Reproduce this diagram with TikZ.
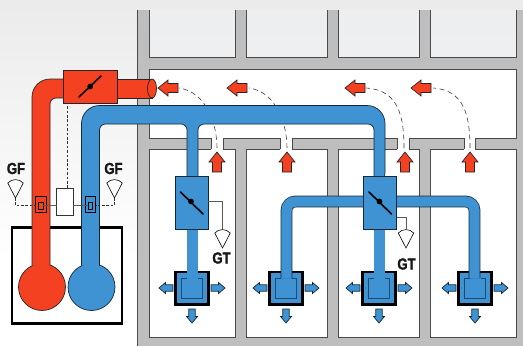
\documentclass[tikz,border=0pt]{standalone}
\usepackage{fontspec}
\setmainfont{Liberation Sans}
\newfontfamily\tagfont[BoldFeatures={FakeBold=1.6}]{Liberation Sans}
\definecolor{ductred}{HTML}{F44121}
\definecolor{ductblue}{HTML}{3F93D2}
\definecolor{wallgray}{HTML}{BEBEBE}
\definecolor{edge}{HTML}{14283A}
\definecolor{innerline}{HTML}{1D4A72}
\definecolor{roomline}{HTML}{4A4A4A}
\tikzset{
  wall/.style={fill=wallgray},
  room/.style={fill=white,draw=roomline,line width=.7pt},
  uproom/.style={draw=roomline,line width=.7pt},
  redpart/.style={fill=ductred,draw=black!85,line width=.7pt},
  bluepart/.style={fill=ductblue,draw=edge,line width=.7pt},
  branchduct/.style={draw=edge,line width=.7pt,double=ductblue,double distance=10.3pt,line cap=butt},
  airdash/.style={draw=black!75,line width=.6pt,dash pattern=on 5pt off 3.5pt},
  ctrldash/.style={draw=black!80,line width=.7pt,dash pattern=on 2.6pt off 1.8pt},
  boxnode/.style={rectangle,inner sep=0pt,outer sep=0pt},
  blade/.style={line width=1.6pt,draw=black,line cap=round},
  cone/.style={fill=white,draw=black,line width=.6pt},
  wire/.style={draw=black!65,line width=.7pt},
  tag/.style={inner sep=0pt,font=\tagfont\fontsize{16}{16}\selectfont\bfseries,xscale=.82,text=black!90},
}
\newcommand{\wallroom}[4]{\filldraw[room] (#1,#2) rectangle (#3,#4);}
\newcommand{\upperroom}[2]{\shade[top color=roomtop,bottom color=roombot] (#1,10) rectangle (#2,57);
  \draw[uproom] (#1,10) -- (#1,57) -- (#2,57) -- (#2,10);}
\definecolor{roomtop}{HTML}{EDEEF0}
\definecolor{roombot}{HTML}{EEEFF1}
\newcommand{\bigarrow}[3]{\begin{scope}[shift={(#1,#2)},rotate=#3]
  \filldraw[redpart] (0,0) -- (10,-8) -- (10,-4.5) -- (20,-4.5) -- (20,4.5) -- (10,4.5) -- (10,8) -- cycle;
  \end{scope}}
\newcommand{\smallarrow}[3]{\begin{scope}[shift={(#1,#2)},rotate=#3]
  \filldraw[bluepart] (0,0) -- (6.5,-5.5) -- (6.5,-3.2) -- (14,-3.2) -- (14,3.2) -- (6.5,3.2) -- (6.5,5.5) -- cycle;
  \end{scope}}
\newcommand{\terminal}[1]{%
  \filldraw[fill=ductblue,draw=black,line width=2.2pt] (#1-16.5,272) rectangle (#1+16.5,304.5);
  \draw[innerline,line width=.8pt] (#1-5.5,278) -- (#1-10.5,278) -- (#1-10.5,298) -- (#1+10.5,298) -- (#1+10.5,278) -- (#1+5.5,278);
  \smallarrow{#1-33}{288}{0}
  \smallarrow{#1+33}{288}{180}
  \smallarrow{#1}{323}{90}}
\newcommand{\conefig}[3]{% tip x, tip y, half width
  \filldraw[cone] (#1,#2) -- (#1-#3,#2-15) .. controls (#1-#3*.5,#2-19.5) and (#1+#3*.5,#2-19.5) .. (#1+#3,#2-15) -- cycle;}
\begin{document}
\begin{tikzpicture}[x=1pt,y=-1pt]
\useasboundingbox (0,0) rectangle (523,346);
% background
\shade[top color=black!8,bottom color=white] (0,0) rectangle (523,260);
% building
\fill[wall] (137,10) rectangle (523,346);
\draw[roomline,line width=.6pt] (137,10) -- (137,346);
\upperroom{149}{235}
\upperroom{246}{327}
\upperroom{338}{419}
\upperroom{430}{516}
\fill[white] (149,69) rectangle (516,138);
\draw[uproom] (211,138) -- (149,138) -- (149,69) -- (516,69) -- (516,138) -- (475,138);
\draw[uproom] (223,138) -- (280,138) (292,138) -- (397,138) (409,138) -- (464,138);
\wallroom{149}{149}{235}{337}
\wallroom{246}{149}{327}{337}
\wallroom{338}{149}{419}{337}
\wallroom{430}{149}{516}{337}
\foreach \a/\b in {211/223,280/292,397/409,464/475}{
  \fill[white] (\a,136) rectangle (\b,150.5);
  \draw[uproom] (\a,138) -- (\a,149) (\b,138) -- (\b,149);
}
% air paths
\draw[airdash] (217,148) .. controls (217,125) and (207,92) .. (179,88);
\draw[airdash] (287,148) .. controls (287,125) and (277,92) .. (249,88);
\draw[airdash] (404,148) .. controls (404,115) and (398,90) .. (366,88);
\draw[airdash] (470,148) .. controls (470,115) and (464,90) .. (433,88);
\bigarrow{158}{88}{0}
\bigarrow{227}{88}{0}
\bigarrow{345}{88}{0}
\bigarrow{411}{88}{0}
\bigarrow{217}{152}{-90}
\bigarrow{287}{152}{-90}
\bigarrow{405}{152}{-90}
\bigarrow{470}{152}{-90}
% plant box
\filldraw[fill=white,draw=black,line width=2.2pt] (12,227.5) rectangle (122,323.5);
% terminals
\terminal{192}
\terminal{286}
\terminal{379}
\terminal{475}
% red duct
\filldraw[redpart] (42,287) circle (23.5);
\filldraw[redpart] (32,265.5) [rounded corners=18pt] -- (32,79) [sharp corners] -- (80,79) -- (80,98) [rounded corners=6pt] -- (50,98) -- (50,265.5);
\filldraw[redpart] (100,79) -- (152,79) -- (152,98) -- (100,98);
\filldraw[redpart] (152,88.5) ellipse (4.5 and 9.5);
% blue duct
\filldraw[bluepart] (91.5,287) circle (23.5);
\filldraw[bluepart] (81.5,265.5) [rounded corners=18pt] -- (81.5,105.5) -- (385,105.5) -- (385,190) [rounded corners=6pt] -- (374,190) -- (374,124) -- (198,124) -- (198,190) -- (187,190) -- (187,124) -- (99.5,124) -- (99.5,265.5);
\draw[branchduct,rounded corners=9pt] (286.5,278) -- (286.5,201.5) -- (474.5,201.5) -- (474.5,278);
\draw[branchduct] (192.5,225) -- (192.5,278);
\draw[branchduct] (379.5,225) -- (379.5,278);
% dampers
\node[boxnode,fill=ductred,draw=black!85,line width=.7pt,minimum width=53.5pt,minimum height=33pt] (rdamper) at (90.2,86.5) {};
\node[boxnode,fill=ductblue,draw=edge,line width=.7pt,minimum width=33.5pt,minimum height=53pt] (bdamperA) at (191.7,202.5) {};
\node[boxnode,fill=ductblue,draw=edge,line width=.7pt,minimum width=33.5pt,minimum height=53pt] (bdamperB) at (380,202.5) {};
\draw[blade] (79,97) -- (101,76);
\fill (rdamper.center) circle (2.9);
\draw[blade] (180.5,192) -- (203,214);
\fill (191,201.5) circle (2.9);
\draw[blade] (369,192) -- (391.5,214);
\fill (379.5,201.5) circle (2.9);
% controller and flow sensors
\node[boxnode,fill=white,draw=black!80,line width=.7pt,minimum width=16.6pt,minimum height=27pt] (ctrl) at (65,201.5) {};
\draw[ctrldash] (ctrl.north) ++(2.7,0) -- (67.7,103);
\node[boxnode,draw=black,line width=.7pt,minimum width=10.4pt,minimum height=16.6pt] (sensR) at (41,204.5) {};
\node[boxnode,draw=black,line width=.7pt,minimum width=4.6pt,minimum height=7.5pt] (coreR) at (41,205.7) {};
\node[boxnode,draw=black,line width=.7pt,minimum width=10.4pt,minimum height=16.6pt] (sensB) at (90.5,204.5) {};
\node[boxnode,draw=black,line width=.7pt,minimum width=4.6pt,minimum height=7.5pt] (coreB) at (90.5,205.7) {};
\draw[wire,line width=1pt] (coreR.east) -- (ctrl.west |- coreR.east);
\draw[wire,line width=1pt] (coreB.west) -- (ctrl.east |- coreB.west);
% GF sensors
\coordinate (gfL) at (15.5,198);
\coordinate (gfR) at (114.5,198);
\draw[ctrldash] (gfL) -- (15.5,205.7) -- (sensR.west |- coreR.west);
\draw[ctrldash] (gfR) -- (114.5,205.7) -- (sensB.east |- coreB.east);
\conefig{15.5}{198}{7.7}
\conefig{114.5}{198}{7.7}
\node[tag] (gfa) at (16,168.5) {GF};
\node[tag] (gfb) at (113.5,168.5) {GF};
% GT sensors
\conefig{222.5}{248}{7.7}
\conefig{406}{248}{7.7}
\coordinate (gtA) at (222.5,229);
\coordinate (gtB) at (406,229);
\draw[wire] (bdamperA.east |- 0,201) -- (222.5,201) -- (gtA);
\draw[wire] (bdamperB.east |- 0,217) -- (406,217) -- (gtB);
\node[tag] (gta) at (221.5,258) {GT};
\node[tag] (gtb) at (406.5,264) {GT};
\end{tikzpicture}
\end{document}
